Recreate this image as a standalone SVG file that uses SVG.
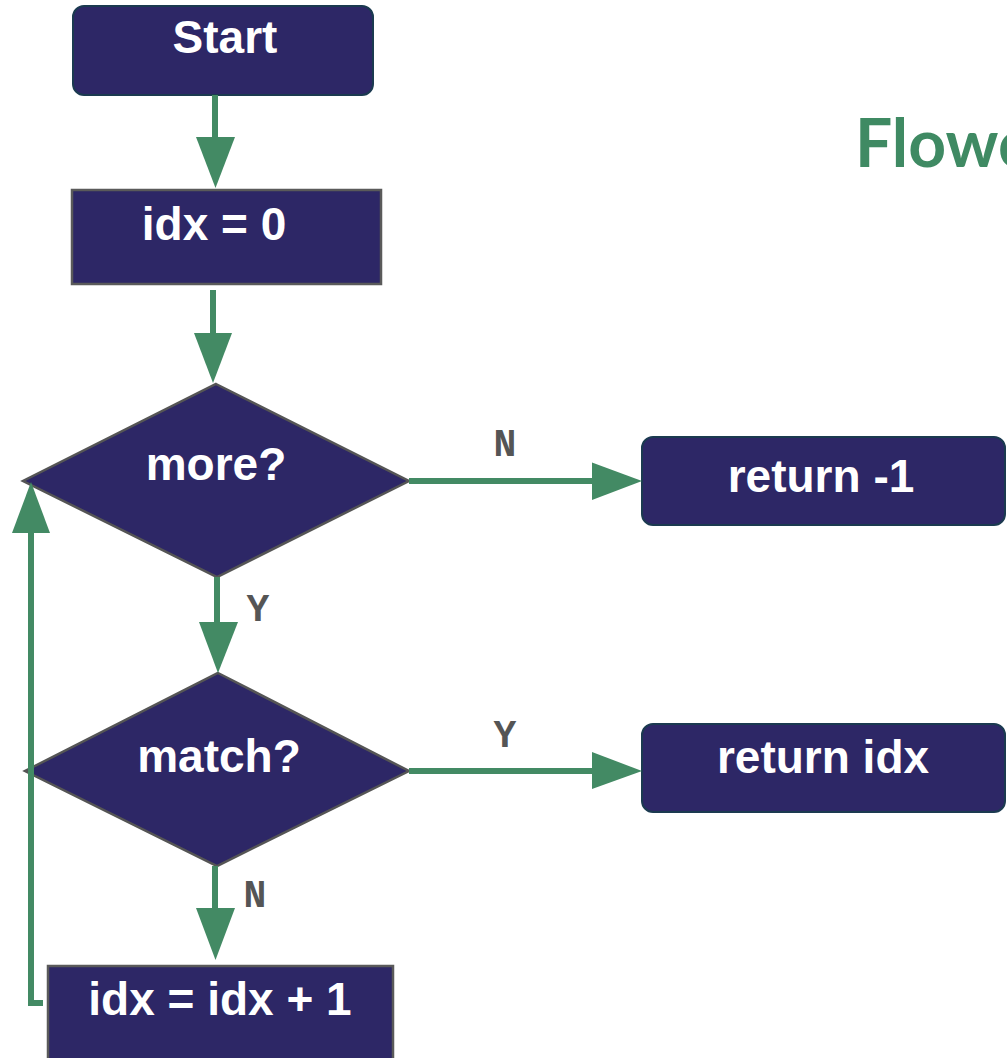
<svg xmlns="http://www.w3.org/2000/svg" width="1007" height="1058" viewBox="0 0 1007 1058">
  <style>
    .terminal { fill: #2d2766; stroke: #1b3a50; stroke-width: 2; }
    .process { fill: #2d2766; stroke: #5a5a5a; stroke-width: 2.5; }
    .decision { fill: #2d2766; stroke: #555555; stroke-width: 2.5; }
    .label { fill: #ffffff; font-family: "Liberation Sans", Arial, sans-serif; font-weight: bold; font-size: 46px; text-anchor: middle; }
    .edge { fill: none; stroke: #438a64; stroke-width: 6; }
    .head { fill: #438a64; }
    .edge-label { fill: #555555; font-family: "Liberation Mono", "Courier New", monospace; font-weight: bold; font-size: 38px; text-anchor: middle; }
    .title { fill: #3f8a63; font-family: Lato, "Open Sans", sans-serif; font-weight: bold; font-size: 66px; }
  </style>

  <rect width="1007" height="1058" fill="#ffffff"/>

  <text class="title" x="855" y="167">Flowchart</text>

  <g id="start">
    <rect class="terminal" x="73" y="6" width="300" height="89" rx="11"/>
    <text class="label" x="225" y="53">Start</text>
  </g>

  <g id="init">
    <rect class="process" x="72" y="190" width="309" height="94"/>
    <text class="label" x="214" y="240">idx = 0</text>
  </g>

  <g id="more">
    <polygon class="decision" points="216,384 409,481 217,577 23,481"/>
    <text class="label" x="216" y="480">more?</text>
  </g>

  <g id="match">
    <polygon class="decision" points="218,673 409,771 217,866 25,771"/>
    <text class="label" x="219" y="772">match?</text>
  </g>

  <g id="increment">
    <rect class="process" x="48" y="966" width="345" height="110"/>
    <text class="label" x="220" y="1015">idx = idx + 1</text>
  </g>

  <g id="return-none">
    <rect class="terminal" x="642" y="437" width="363" height="88" rx="11"/>
    <text class="label" x="821" y="492">return -1</text>
  </g>

  <g id="return-idx">
    <rect class="terminal" x="642" y="724" width="363" height="88" rx="11"/>
    <text class="label" x="823" y="773">return idx</text>
  </g>

  <g id="connectors">
    <!-- Start -> idx = 0 -->
    <line class="edge" x1="215" y1="95" x2="215" y2="138"/>
    <polygon class="head" points="196,137 235,137 215.5,188"/>

    <!-- idx = 0 -> more? -->
    <line class="edge" x1="213" y1="290" x2="213" y2="334"/>
    <polygon class="head" points="194,333 232,333 213,383"/>

    <!-- more? -Y-> match? -->
    <line class="edge" x1="217" y1="577" x2="217" y2="623"/>
    <polygon class="head" points="199,622 238,622 218,673"/>
    <text class="edge-label" x="258" y="621">Y</text>

    <!-- match? -N-> idx = idx + 1 -->
    <line class="edge" x1="215" y1="866" x2="215" y2="909"/>
    <polygon class="head" points="196,908 235,908 215.5,960"/>
    <text class="edge-label" x="255" y="907">N</text>

    <!-- more? -N-> return -1 -->
    <line class="edge" x1="409" y1="481" x2="593" y2="481"/>
    <polygon class="head" points="592,462.5 592,500 642,481"/>
    <text class="edge-label" x="505" y="456">N</text>

    <!-- match? -Y-> return idx -->
    <line class="edge" x1="409" y1="771" x2="593" y2="771"/>
    <polygon class="head" points="592,752 592,789 642,771"/>
    <text class="edge-label" x="505" y="747">Y</text>

    <!-- loop back: idx = idx + 1 -> more? -->
    <path class="edge" d="M 43 1003 H 31 V 532"/>
    <polygon class="head" points="12,533 50,533 31,482"/>
  </g>
</svg>
